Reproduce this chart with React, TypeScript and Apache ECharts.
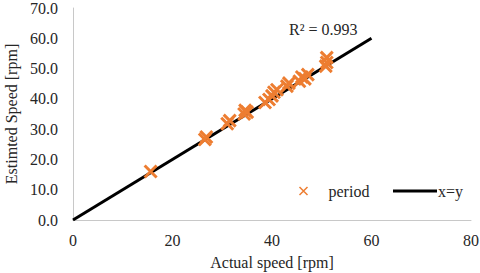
import React, { useEffect, useRef } from "react";
import * as echarts from "echarts";

const actualSpeed = [15.6, 26.5, 26.8, 31.0, 31.5, 34.4, 34.6, 35.0, 38.6, 39.4, 40.0, 40.4, 41.0, 43.0, 43.4, 45.5, 46.0, 46.6, 47.2, 50.8, 51.0, 51.0];
const estimatedSpeed = [16.0, 26.6, 27.4, 31.8, 32.8, 35.0, 36.2, 35.6, 38.8, 39.8, 41.0, 42.2, 43.0, 44.2, 45.2, 45.8, 47.2, 46.6, 48.0, 50.8, 52.0, 53.6];
const identityX = [0, 60];
const identityY = [0, 60];
const xTicks = [0, 20, 40, 60, 80];
const yTicks = [0, 10, 20, 30, 40, 50, 60, 70];
const r2Label = "R\u00B2 = 0.993";

const FONT = "'Liberation Serif', 'Times New Roman', serif";
const CROSS = "path://M0,0L10,10M10,0L0,10";

export default function App() {
  const ref = useRef<HTMLDivElement>(null);
  useEffect(() => {
    if (!ref.current) return;
    const chart = echarts.init(ref.current, null, { renderer: "svg" });
    chart.setOption({
      animation: false,
      textStyle: { fontFamily: FONT },
      grid: { left: 73, right: 9, top: 8, bottom: 53, containLabel: false, outerBoundsMode: "none" },
      xAxis: {
        type: "value",
        min: xTicks[0],
        max: xTicks[xTicks.length - 1],
        interval: 20,
        name: "Actual speed [rpm]",
        nameLocation: "middle",
        nameGap: 34,
        nameTextStyle: { fontFamily: FONT, fontSize: 16, color: "#262626" },
        axisLine: { show: true, lineStyle: { color: "#c8c8c8", width: 1 } },
        axisTick: { show: false },
        splitLine: { show: false },
        axisLabel: { fontFamily: FONT, fontSize: 16, color: "#262626", margin: 12 },
      },
      yAxis: {
        type: "value",
        min: yTicks[0],
        max: yTicks[yTicks.length - 1],
        interval: 10,
        name: "Estimted Speed [rpm]",
        nameLocation: "middle",
        nameGap: 51,
        nameTextStyle: { fontFamily: FONT, fontSize: 16, color: "#262626" },
        axisLine: { show: true, lineStyle: { color: "#c8c8c8", width: 1 } },
        axisTick: { show: false },
        splitLine: { show: false },
        axisLabel: {
          fontFamily: FONT,
          fontSize: 16,
          color: "#262626",
          margin: 15,
          formatter: (v: number) => v.toFixed(1),
        },
      },
      legend: [
        {
          data: [{ name: "period", icon: CROSS, itemStyle: { color: "none", borderColor: "#ED7D31", borderWidth: 1.5 } }],
          left: 292,
          top: 178,
          itemWidth: 8,
          itemHeight: 8,
          textStyle: { fontFamily: FONT, fontSize: 16, color: "#262626", padding: [0, 0, 0, 16] },
        },
        {
          data: [{ name: "x=y", icon: "rect" }],
          left: 388,
          top: 178,
          itemWidth: 44,
          itemHeight: 3,
          textStyle: { fontFamily: FONT, fontSize: 16, color: "#262626", padding: [0, 0, 0, -4] },
        },
      ],
      series: [
        {
          name: "x=y",
          type: "line",
          data: identityX.map((x, i) => [x, identityY[i]]),
          showSymbol: false,
          symbol: "none",
          lineStyle: { color: "#000000", width: 3 },
          itemStyle: { color: "#000000" },
          z: 2,
        },
        {
          name: "period",
          type: "scatter",
          data: actualSpeed.map((x, i) => [x, estimatedSpeed[i]]),
          symbol: CROSS,
          symbolSize: 12,
          itemStyle: { color: "none", borderColor: "#ED7D31", borderWidth: 3, opacity: 1 },
          z: 3,
        },
      ],
      graphic: [
        {
          type: "text",
          left: 289,
          top: 21,
          style: { text: r2Label, fontFamily: FONT, fontSize: 16, fill: "#262626" },
        },
      ],
    });
    return () => chart.dispose();
  }, []);
  return <div ref={ref} style={{ width: 480, height: 273, position: "absolute", left: 0, top: 0 }} />;
}
